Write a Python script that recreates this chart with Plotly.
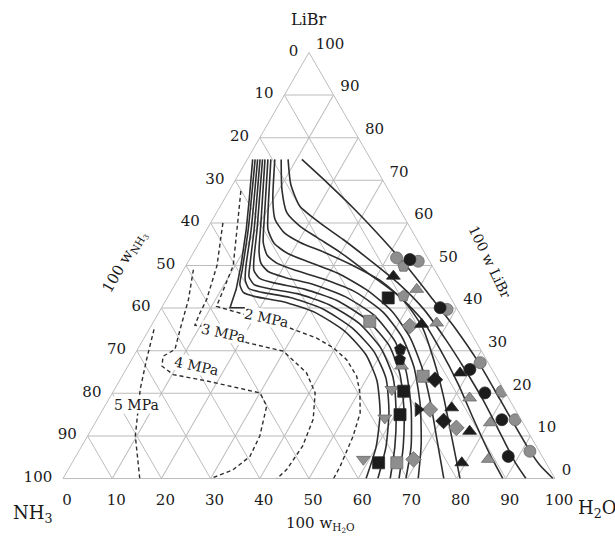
import plotly.graph_objects as go

# ---- composition data, mass percent: (100 w LiBr, 100 w H2O); NH3 is the balance ----
solid_curves = [
    [(74.9, 1.1), (65.5, 5.1), (58.5, 8.0), (50.2, 11.1), (44.4, 13.0), (41.5, 13.6), (40.1, 13.9), (40.1, 16.9)],
    [(74.9, 1.6), (58.5, 8.4), (49.1, 11.9), (45.5, 13.2), (43.7, 14.8), (42.7, 17.7), (41.5, 24.0), (39.0, 31.7),
     (34.5, 40.1), (29.1, 47.0), (23.0, 52.3), (15.5, 56.7), (7.5, 59.9), (0, 61.6)],
    [(74.9, 2.1), (58.5, 9.0), (49.5, 12.4), (46.5, 13.8), (44.6, 15.5), (43.7, 18.6), (42.5, 24.9), (39.9, 32.7),
     (35.4, 41.0), (29.8, 48.3), (23.5, 53.9), (15.7, 58.4), (7.5, 61.9), (0, 64.0)],
    [(74.9, 2.6), (58.5, 9.6), (50.2, 12.9), (47.4, 14.1), (45.5, 16.1), (44.6, 19.4), (43.4, 25.9), (40.8, 33.7),
     (36.4, 42.0), (30.5, 49.4), (23.9, 55.1), (16.0, 59.7), (7.5, 63.7), (0, 66.5)],
    [(74.9, 3.1), (58.5, 10.2), (51.4, 13.1), (48.8, 14.4), (46.9, 16.6), (45.8, 20.4), (44.4, 27.0), (41.8, 34.8),
     (37.3, 43.1), (31.2, 50.7), (24.4, 56.3), (16.2, 61.2), (7.5, 65.4), (0, 68.3)],
    [(74.9, 3.6), (59.6, 10.4), (53.3, 13.2), (50.5, 15.0), (48.6, 17.4), (47.2, 21.5), (45.5, 28.3), (42.7, 36.0),
     (38.3, 44.1), (32.2, 51.4), (25.1, 57.2), (16.7, 62.4), (7.5, 67.0), (0, 69.7)],
    [(74.9, 4.2), (60.8, 10.5), (55.4, 13.0), (52.4, 15.3), (50.5, 18.3), (48.8, 23.0), (46.7, 29.9), (43.7, 37.7),
     (39.0, 45.6), (33.1, 52.4), (26.1, 58.3), (17.4, 63.9), (8.0, 68.8), (0, 72.2)],
    [(74.9, 4.8), (63.2, 10.1), (58.5, 12.4), (55.2, 15.3), (52.8, 19.3), (50.7, 24.9), (47.9, 32.4), (44.1, 39.9),
     (39.2, 47.3), (33.1, 54.0), (26.1, 59.9), (18.1, 65.6), (9.2, 71.4), (0, 77.4)],
    [(74.9, 5.6), (65.5, 9.9), (60.8, 12.7), (57.7, 16.1), (55.4, 20.5), (53.1, 26.5), (50.0, 33.9), (46.2, 41.7),
     (41.5, 48.7), (35.5, 55.3), (27.9, 61.4), (19.7, 67.4), (9.2, 74.5), (0, 80.7)],
    [(74.9, 6.9), (67.8, 10.6), (62.4, 14.3), (59.2, 18.6), (56.6, 23.3), (53.1, 29.8), (48.4, 37.6), (42.7, 47.1),
     (37.3, 54.3), (30.3, 61.5), (22.1, 69.3), (13.8, 76.6), (5.6, 84.0), (0, 89.4)],
    [(74.9, 8.3), (69.0, 11.8), (63.9, 16.2), (60.0, 22.2), (56.1, 28.9), (50.9, 37.3), (45.5, 45.7), (39.7, 53.5),
     (32.6, 61.5), (25.6, 68.9), (18.5, 76.1), (9.2, 84.9), (3.8, 90.0), (0, 94.1)],
    [(74.9, 11.1), (69.0, 19.6), (63.1, 27.8), (56.1, 37.0), (49.1, 45.8), (42.0, 54.2), (35.0, 62.4), (27.2, 70.9),
     (18.5, 79.6), (7.5, 90.6), (3.1, 95.4), (0, 99.6)],
]

pressure_labels = ["2 MPa", "3 MPa", "4 MPa", "5 MPa"]
dashed_curves = [
    [(67.5, 2.4), (60, 5.5), (50, 9.6), (44, 10.5), (40.4, 11.0), (38.5, 17.7), (37.5, 23), (35, 29.3), (33, 35), (30.7, 39.6),
     (27.9, 43.7), (24, 47.7), (20.1, 50.3), (15.4, 52.7), (9.9, 54), (2.9, 54.9), (0, 55)],
    [(60, 2.5), (50, 6.3), (42, 8.2), (38.9, 8.4), (36, 8.8), (35, 15), (31.9, 21.4), (29.9, 29.8), (24.8, 37.1), (20.1, 41.2),
     (13.9, 43.9), (7.6, 44.9), (2.1, 44.4), (0, 43.5)],
    [(49, 2), (42, 4.5), (35, 6.3), (30.3, 7.6), (28.7, 6.0), (26.4, 6.9), (24.4, 10.2), (22.9, 17.8), (20.1, 30), (17, 32.9),
     (10, 35), (5.2, 35.4), (2, 33.5), (0, 30)],
    [(35, 1), (28, 3), (21, 5.2), (10, 9.7), (0, 15.6)],
]
# label anchor (LiBr, H2O) and text rotation for each isobar
label_pos = [(37.7, 22.5), (34.2, 15.5), (26.4, 14.0), (17.4, 6.3)]
label_angle = [12, 12, 12, 0]

# measured compositions: LiBr, H2O, marker symbol, fill
exp_libr = [51.8, 51.4, 51.0, 49.8, 47.5, 44.4, 42.4, 42.8, 40.1, 39.7, 36.2, 35.8, 36.5, 36.9, 30.3, 27.9,
            27.2, 24.8, 25.6, 23.2, 20.1, 20.5, 20.5, 18.9, 16.2, 16.6, 15.0, 13.8, 13.8, 13.5, 11.9, 11.1,
            13.1, 5.2, 6.4, 3.7, 4.5, 3.7, 3.7, 4.5, 4.5, 20.9, 14.2, 24.0, 16.2, 26.4]
exp_h2o = [41.9, 44.8, 46.7, 44.3, 43.4, 49.7, 44.9, 47.8, 56.6, 58.2, 54.8, 52.6, 57.7, 43.9, 53.4, 54.5,
           71.2, 68.3, 69.9, 64.0, 75.7, 79.0, 59.0, 73.2, 64.1, 70.7, 61.0, 82.3, 85.0, 70.6, 74.0, 77.1,
           80.3, 87.9, 91.7, 79.2, 84.2, 62.3, 66.0, 69.0, 58.8, 56.4, 58.3, 61.2, 66.5, 55.6]
exp_symbol = ["circle", "circle", "circle", "pentagon", "triangle-up", "triangle-up", "square", "pentagon",
              "circle", "circle", "triangle-up", "diamond", "triangle-up", "square", "pentagon", "pentagon",
              "circle", "triangle-up", "circle", "diamond", "circle", "circle", "square", "triangle-up",
              "triangle-right", "triangle-up", "square", "circle", "circle", "diamond", "diamond", "triangle-up",
              "triangle-up", "circle", "circle", "triangle-up", "triangle-up", "square", "square", "diamond",
              "triangle-down", "triangle-down", "triangle-down", "square", "diamond", "triangle-up"]
exp_dark = [0, 1, 0, 0, 1, 0, 1, 0, 1, 0, 1, 0, 0, 0, 1, 1,
            0, 1, 1, 1, 1, 0, 1, 0, 1, 1, 1, 1, 0, 1, 0, 1,
            0, 1, 0, 1, 0, 1, 0, 0, 0, 0, 0, 0, 0, 0]

SERIF = "DejaVu Serif"
GRID = "#bcbcbc"
INK = "#2e2e2e"
TXT = "#1a1a1a"

ticks = list(range(0, 101, 10))
rev_text = [str(100 - t) for t in ticks]


def split(curve):
    libr = [p[0] for p in curve]
    h2o = [p[1] for p in curve]
    nh3 = [100 - l - w for l, w in zip(libr, h2o)]
    return libr, nh3, h2o


def paper_xy(libr, h2o):
    # position inside the ternary domain, used for text placement only
    return h2o / 100 + libr / 200, libr / 100


fig = go.Figure()

for curve in dashed_curves:
    a, b, c = split(curve)
    fig.add_trace(go.Scatterternary(a=a, b=b, c=c, mode="lines",
                                    line=dict(color=INK, width=1.4, dash="4px,3px"),
                                    hoverinfo="skip", showlegend=False))

for k, curve in enumerate(solid_curves):
    a, b, c = split(curve)
    shape = dict(shape="linear") if k == 0 else dict(shape="spline", smoothing=0.6)
    fig.add_trace(go.Scatterternary(a=a, b=b, c=c, mode="lines",
                                    line=dict(color=INK, width=1.6, **shape),
                                    hoverinfo="skip", showlegend=False))

for dark in (0, 1):
    idx = [i for i, d in enumerate(exp_dark) if d == dark]
    a = [exp_libr[i] for i in idx]
    c = [exp_h2o[i] for i in idx]
    b = [100 - x - y for x, y in zip(a, c)]
    fig.add_trace(go.Scatterternary(
        a=a, b=b, c=c, mode="markers",
        marker=dict(symbol=[exp_symbol[i] for i in idx], size=12,
                    color="#1c1c1c" if dark else "#8e8e8e",
                    line=dict(color="#2a2a2a" if dark else "#6a6a6a", width=0.8)),
        hoverinfo="skip", showlegend=False))

axis_common = dict(
    min=0, tickmode="array", tickvals=ticks, ticktext=rev_text,
    showgrid=True, gridcolor=GRID, gridwidth=1,
    showline=True, linecolor=GRID, linewidth=1,
    ticks="outside", ticklen=8, tickcolor="rgba(0,0,0,0)",
    tickfont=dict(family=SERIF, size=15, color=TXT),
    layer="below traces", title=dict(text=""),
)

fig.update_layout(
    width=615, height=538,
    margin=dict(l=63, r=60, t=52, b=59),
    paper_bgcolor="white",
    font=dict(family=SERIF, color=TXT),
    ternary=dict(
        sum=100, bgcolor="white",
        domain=dict(x=[0, 1], y=[0, 1]),
        aaxis=axis_common, baxis=axis_common, caxis=axis_common,
    ),
)

annotations = []
for text, (l, w), ang in zip(pressure_labels, label_pos, label_angle):
    x, y = paper_xy(l, w)
    annotations.append(dict(x=x, y=y, xref="paper", yref="paper", text=text, showarrow=False,
                            xanchor="center", yanchor="middle",
                            textangle=ang, bgcolor="white", borderpad=0,
                            font=dict(family=SERIF, size=14, color=TXT)))

center = dict(xref="paper", yref="paper", showarrow=False, xanchor="center", yanchor="middle")
annotations += [
    dict(x=0.5, y=1, yshift=33, text="LiBr", font=dict(family=SERIF, size=16), **center),
    dict(x=0, y=0, xshift=-31, yshift=-35, text="NH<sub>3</sub>", font=dict(family=SERIF, size=18), **center),
    dict(x=1, y=0, xshift=42, yshift=-30, text="H<sub>2</sub>O", font=dict(family=SERIF, size=18), **center),
    dict(x=0.5, y=0, xshift=11, yshift=-45, text="100 w<sub>H<sub>2</sub>O</sub>", font=dict(family=SERIF, size=15), **center),
    dict(x=0.126, y=0.509, text="100 w<sub>NH<sub>3</sub></sub>", textangle=-60, font=dict(family=SERIF, size=15), **center),
    dict(x=0.862, y=0.509, xshift=3, text="100 w LiBr", textangle=64, font=dict(family=SERIF, size=14), **center),
]
fig.update_layout(annotations=annotations)

fig.write_html("out.html")
